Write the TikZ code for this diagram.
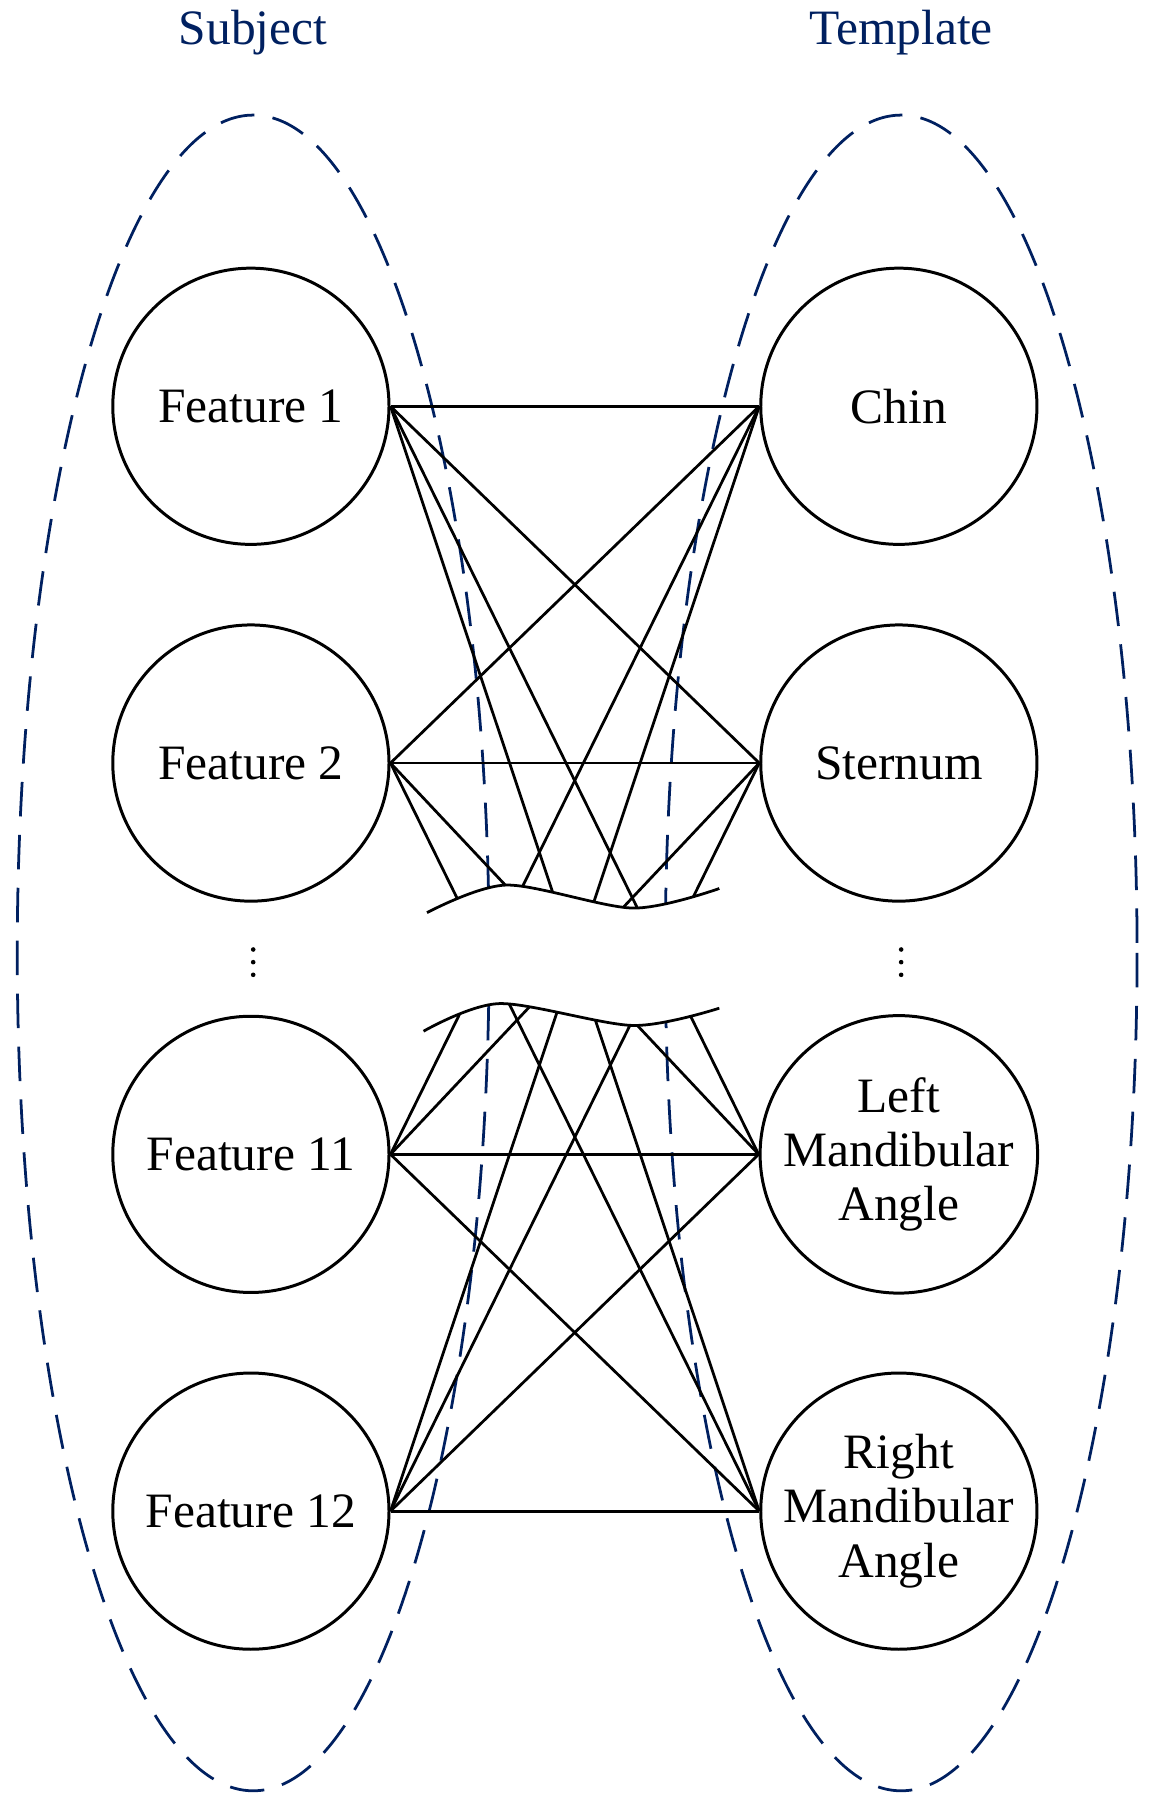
\documentclass[tikz,border=0pt]{standalone}
\usepackage{fontspec}
\setmainfont{Liberation Serif}
\begin{document}
\begin{tikzpicture}[x=1pt,y=-1pt,
  nd/.style={circle,draw,line width=2.6pt,minimum size=240pt,inner sep=0pt,align=center,font=\fontsize{43}{55}\selectfont},
  ln/.style={line width=2.4pt},
  el/.style={draw={rgb,255:red,0;green,32;blue,96},line width=2.4pt,dash pattern=on 30pt off 16pt},
  ttl/.style={text={rgb,255:red,0;green,32;blue,96},font=\fontsize{43}{50}\selectfont},
  dt/.style={circle,fill,inner sep=0pt,minimum size=4pt}]
\useasboundingbox (0,0) rectangle (1000,1564);
\node[ttl] (ts) at (220,28) {Subject};
\node[ttl] (tt) at (783,28) {Template};
\draw[el] (220,828) ellipse [x radius=205, y radius=728];
\draw[el] (783,828) ellipse [x radius=205, y radius=728];
\node[nd] (f1) at (218,353) {Feature 1};
\node[nd] (f2) at (218,663) {Feature 2};
\node[nd] (f11) at (218,1003) {Feature 11};
\node[nd] (f12) at (218,1313) {Feature 12};
\node[nd] (chin) at (781,353) {Chin};
\node[nd] (st) at (781,663) {Sternum};
\node[nd] (lm) at (781,1003) {Left\\[-8pt]Mandibular\\[-8pt]Angle};
\node[nd] (rm) at (781,1313) {Right\\[-8pt]Mandibular\\[-8pt]Angle};
\foreach \a in {f1,f2,f11,f12}{\foreach \b in {chin,st,lm,rm}{\draw[ln] (\a.east) -- (\b.west);}}
\fill[white] plot[smooth] coordinates {(371,793)(440,769)(550,789)(625,772)} -- plot[smooth] coordinates {(625,876)(550,891)(434,872)(368,896)} -- cycle;
\draw[ln] plot[smooth] coordinates {(371,793)(440,769)(550,789)(625,772)};
\draw[ln] plot[smooth] coordinates {(368,896)(434,872)(550,891)(625,876)};
\foreach \x/\n in {220/l,783/r}{
  \node[dt] (\n a) at (\x,825) {};
  \node[dt] (\n b) at (\x,836) {};
  \node[dt] (\n c) at (\x,847) {};}
\end{tikzpicture}
\end{document}
